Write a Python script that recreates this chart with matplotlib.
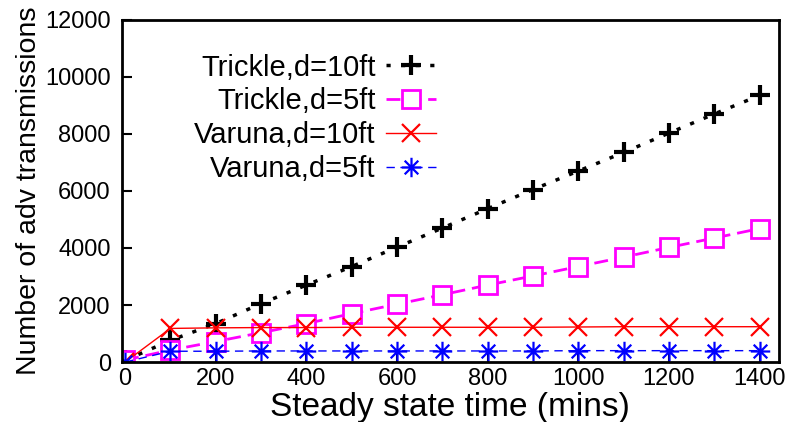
import matplotlib.pyplot as plt
from matplotlib.path import Path

# steady state time (mins)
time = [0, 100, 200, 300, 400, 500, 600, 700, 800, 900, 1000, 1100, 1200, 1300, 1400]

trickle_10 = [60, 760, 1350, 2050, 2700, 3350, 4030, 4700, 5380, 6050, 6700, 7350, 8030, 8700, 9350]
trickle_5 = [70, 420, 720, 1030, 1350, 1700, 2030, 2360, 2700, 3020, 3350, 3680, 4020, 4350, 4680]
varuna_10 = [0, 1180, 1200, 1210, 1210, 1220, 1220, 1220, 1220, 1220, 1230, 1240, 1240, 1240, 1240]
varuna_5 = [0, 380, 380, 390, 390, 390, 390, 390, 390, 390, 400, 400, 400, 400, 400]

labels = ["Trickle,d=10ft", "Trickle,d=5ft", "Varuna,d=10ft", "Varuna,d=5ft"]

# gnuplot style asterisk: plus and cross on top of each other
star = Path([(-1, 0), (1, 0), (0, -1), (0, 1), (-0.7, -0.7), (0.7, 0.7), (-0.7, 0.7), (0.7, -0.7)],
            [Path.MOVETO, Path.LINETO] * 4)

plt.rcParams['font.family'] = ['Liberation Sans', 'DejaVu Sans']

fig = plt.figure(figsize=(7.97, 4.22), dpi=100)
ax = fig.add_axes([0.153, 0.142, 0.824, 0.811])

ax.plot(time, trickle_10, color='black', linestyle=(0, (1.2, 3)), linewidth=2.5,
        marker='+', markersize=14, markeredgewidth=3, label=labels[0])
ax.plot(time, trickle_5, color='#ff00ff', linestyle=(0, (5, 2.5)), linewidth=2,
        marker='s', markersize=13, markerfacecolor='white', markeredgewidth=2, label=labels[1])
ax.plot(time, varuna_10, color='red', linestyle='-', linewidth=1,
        marker='x', markersize=13, markeredgewidth=1.6, label=labels[2])
ax.plot(time, varuna_5, color='blue', linestyle=(0, (6, 4)), linewidth=1,
        marker=star, markersize=14, markeredgewidth=1.6, label=labels[3])

ax.set_xlim(-7, 1442)
ax.set_ylim(0, 12000)
ax.set_xticks(range(0, 1401, 200))
ax.set_yticks(range(0, 12001, 2000))
ax.tick_params(direction='in', length=7, width=1.5, labelsize=17)
ax.tick_params(axis='x', pad=4)
ax.tick_params(axis='y', pad=8)
for s in ax.spines.values():
    s.set_linewidth(2)

ax.set_xlabel("Steady state time (mins)", fontsize=24, labelpad=2)
ax.set_ylabel("Number of adv transmissions", fontsize=20.5, labelpad=2)

leg = ax.legend(loc='upper right', bbox_to_anchor=(0.482, 0.91), markerfirst=False, frameon=False,
                fontsize=21, handlelength=1.7, handletextpad=0.35, labelspacing=0.2,
                borderpad=0.1, borderaxespad=0)
for col in leg._legend_handle_box.get_children():
    col.align = 'right'

fig.savefig('out.png', dpi=100)
